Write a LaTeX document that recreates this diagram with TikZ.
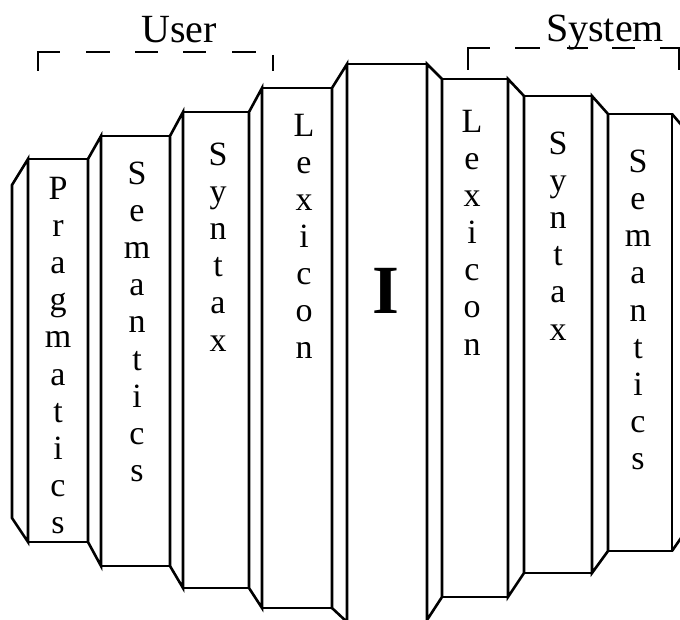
\documentclass[tikz,border=0pt]{standalone}
\usepackage{fontspec}
\setmainfont{Liberation Serif}
\usepackage{tikz}

\begin{document}
\begin{tikzpicture}[x=1pt, y=-1pt,
    panel/.style={draw=black, line width=2.6pt, line join=miter},
    bracket/.style={draw=black, line width=2.2pt},
    glyph/.style={font=\fontsize{34}{36}\selectfont, anchor=base, inner sep=0pt},
    side/.style={font=\fontsize{40}{42}\selectfont, anchor=base, inner sep=0pt}
  ]
  \useasboundingbox (0,0) rectangle (680,620);
  \clip (0,0) rectangle (680,620);
  \fill[white] (0,0) rectangle (680,620);

  % panels: front face with its bevel towards the previous one
  \foreach \xa/\xb/\yt/\yb/\pa/\pt/\pb in {
      28/88/159/542/12/185/518,
      101/170/136/566/88/159/542,
      183/249/112/588/170/136/566,
      262/332/88/608/249/112/588,
      347/427/64/622/332/88/608,
      442/508/79/597/427/64/620,
      524/592/96/573/508/79/597,
      608/672/114/551/592/96/573} {
    \draw[panel] (\pa,\pt) -- (\xa,\yt) -- (\xa,\yb) -- (\pa,\pb) -- cycle;
    \draw[panel] (\xa,\yt) rectangle (\xb,\yb);
  }
  \draw[panel] (672,114) -- (690,135) -- (690,525) -- (672,551);

  % brackets
  \draw[bracket, dash pattern=on 41pt off 26pt on 24pt off 25pt on 23pt off 25pt on 23pt off 26pt on 24pt off 20pt on 20pt]
       (38,71) -- (38,52) -- (273,52) -- (273,71);
  \draw[bracket, dash pattern=on 44pt off 25pt on 25pt off 27pt on 21pt off 24pt on 23pt off 25pt on 41pt]
       (468,70) -- (468,48) -- (679,48) -- (679,70);
  \node[side] (user) at (179,43) {User};
  \node[side] (system) at (605,42) {System};

  % vertical words
  \foreach \col/\x/\y/\letters in {
      prag/58/200/{P,r,a,g,m,a,t,i,c,s},
      semL/137/185/{S,e,m,a,n,t,i,c,s},
      synL/218/166/{S,y,n,t,a,x},
      lexL/304/137/{L,e,x,i,c,o,n},
      lexR/472/133/{L,e,x,i,c,o,n},
      synR/558/155/{S,y,n,t,a,x},
      semR/638/173/{S,e,m,a,n,t,i,c,s}} {
    \foreach \c [count=\i from 0] in \letters
      \node[glyph] (\col-\i) at (\x,{\y+37*\i}) {\c};
  }

  \node[font=\fontsize{69}{69}\selectfont\bfseries, anchor=base, inner sep=0pt] (core) at (386,313) {I};
\end{tikzpicture}
\end{document}
